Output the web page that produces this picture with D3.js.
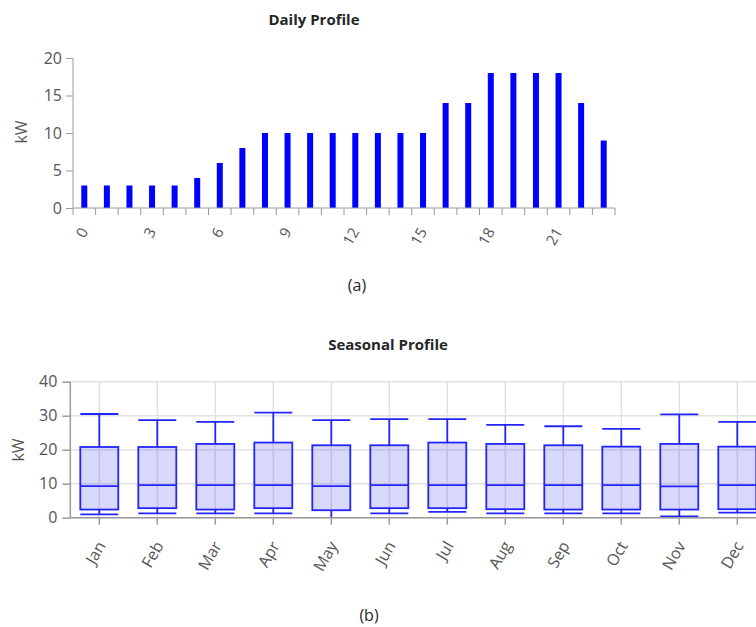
<!DOCTYPE html>
<html><head><meta charset="utf-8">
<script src="https://cdn.jsdelivr.net/npm/d3@7/dist/d3.min.js"></script>
<style>
html,body{margin:0;padding:0;background:#fff;overflow:hidden;}
text{font-family:"Open Sans","Segoe UI",sans-serif;}
</style></head>
<body><svg id="c" width="756" height="627"></svg>
<script>
// ---- Data ----
const hours = [0,1,2,3,4,5,6,7,8,9,10,11,12,13,14,15,16,17,18,19,20,21,22,23];
const hourTickLabels = [0,3,6,9,12,15,18,21];
const dailyKW = [3,3,3,3,3,4,6,8,10,10,10,10,10,10,10,10,14,14,18,18,18,18,14,9];
const dailyYTicks = [0,5,10,15,20];

const months = ["Jan","Feb","Mar","Apr","May","Jun","Jul","Aug","Sep","Oct","Nov","Dec"];
const whiskerLow  = [1.0,1.3,1.3,1.3,0.0,1.3,1.7,1.3,1.3,1.3,0.4,1.5];
const q1          = [2.4,2.8,2.4,2.8,2.2,2.8,2.8,2.5,2.4,2.4,2.4,2.5];
const median      = [9.3,9.6,9.6,9.6,9.3,9.6,9.6,9.6,9.6,9.6,9.2,9.6];
const q3          = [20.8,20.8,21.7,22.1,21.3,21.3,22.1,21.7,21.3,20.9,21.7,20.9];
const whiskerHigh = [30.5,28.7,28.2,30.9,28.7,29.0,29.0,27.3,26.9,26.1,30.4,28.2];
const seasonalYTicks = [0,10,20,30,40];

const svg = d3.select("#c");
const axisCol = "#9a9a9a", tickTxt = "#555", titleCol = "#262626";

// ---- Chart (a): Daily Profile ----
{
  const x0 = 73, x1 = 615, yb = 208, yt = 58;
  const x = d3.scaleBand().domain(hours).range([x0, x1]).paddingInner(0).paddingOuter(0);
  const y = d3.scaleLinear().domain([0, 20]).range([yb, yt]);
  const g = svg.append("g");

  g.selectAll("rect.bar").data(dailyKW).enter().append("rect")
    .attr("x", (d,i) => x(hours[i]) + x.bandwidth()/2 - 3)
    .attr("width", 6)
    .attr("y", d => y(d))
    .attr("height", d => yb - y(d))
    .attr("fill", "#0000ff");

  const ya = g.append("g").attr("transform", `translate(${x0},0)`)
    .call(d3.axisLeft(y).tickValues(dailyYTicks).tickSize(7).tickPadding(4));
  ya.select(".domain").attr("stroke", axisCol).attr("d", `M0,${yt}V${yb}`);
  ya.selectAll(".tick line").attr("stroke", axisCol);
  ya.selectAll(".tick text").attr("fill", tickTxt).style("font-size", "16px");

  const bounds = hours.map(h => x(h)).concat([x1]);
  g.append("line").attr("x1", x0).attr("x2", x1).attr("y1", yb).attr("y2", yb).attr("stroke", axisCol);
  g.selectAll("line.xt").data(bounds).enter().append("line")
    .attr("x1", d => d).attr("x2", d => d).attr("y1", yb).attr("y2", yb + 7).attr("stroke", axisCol);
  g.selectAll("text.xl").data(hourTickLabels).enter().append("text")
    .attr("transform", d => `translate(${x(d) + x.bandwidth()/2},${yb + 21}) rotate(-60)`)
    .attr("text-anchor", "end").attr("dy", "0.35em")
    .attr("fill", tickTxt).style("font-size", "15px").text(d => d);

  g.append("text").attr("transform", `translate(27,132) rotate(-90)`)
    .attr("text-anchor", "middle").attr("fill", tickTxt).style("font-size", "16px").text("kW");
  g.append("text").attr("x", 314).attr("y", 25).attr("text-anchor", "middle")
    .attr("fill", titleCol).style("font-size", "15px").style("font-weight", "bold").text("Daily Profile");
  g.append("text").attr("x", 357).attr("y", 291).attr("text-anchor", "middle")
    .attr("fill", titleCol).style("font-size", "16px").text("(a)");
}

// ---- Chart (b): Seasonal Profile ----
{
  const x0 = 70.3, bw = 58, yb = 517.7, yt = 381.7;
  const x = d3.scaleBand().domain(months).range([x0, x0 + bw * months.length]).padding(0);
  const y = d3.scaleLinear().domain([0, 40]).range([yb, yt]);
  const g = svg.append("g");
  const xr = x0 + bw * months.length;

  g.selectAll("line.hg").data(seasonalYTicks).enter().append("line")
    .attr("x1", x0).attr("x2", xr).attr("y1", d => y(d)).attr("y2", d => y(d))
    .attr("stroke", "#e2e2e2").attr("stroke-width", 1.5);
  g.selectAll("line.vg").data(months).enter().append("line")
    .attr("x1", d => x(d) + bw/2).attr("x2", d => x(d) + bw/2).attr("y1", yt).attr("y2", yb)
    .attr("stroke", "#e2e2e2").attr("stroke-width", 1.5);

  const boxW = 38, stroke = "#2424ff", sw = 1.8;
  const data = months.map((m,i) => ({m, lo: whiskerLow[i], q1: q1[i], md: median[i], q3: q3[i], hi: whiskerHigh[i]}));
  const bg = g.selectAll("g.box").data(data).enter().append("g")
    .attr("transform", d => `translate(${x(d.m) + bw/2},0)`);
  bg.append("line").attr("x1",0).attr("x2",0).attr("y1", d=>y(d.hi)).attr("y2", d=>y(d.q3)).attr("stroke", stroke).attr("stroke-width", sw);
  bg.append("line").attr("x1",0).attr("x2",0).attr("y1", d=>y(d.q1)).attr("y2", d=>y(d.lo)).attr("stroke", stroke).attr("stroke-width", sw);
  bg.append("rect").attr("x", -boxW/2).attr("width", boxW)
    .attr("y", d => y(d.q3)).attr("height", d => y(d.q1) - y(d.q3))
    .attr("fill", "rgba(40,40,230,0.18)").attr("stroke", stroke).attr("stroke-width", sw);
  bg.append("line").attr("x1",-boxW/2).attr("x2",boxW/2).attr("y1", d=>y(d.md)).attr("y2", d=>y(d.md)).attr("stroke", stroke).attr("stroke-width", sw);
  bg.append("line").attr("x1",-boxW/2).attr("x2",boxW/2).attr("y1", d=>y(d.hi)).attr("y2", d=>y(d.hi)).attr("stroke", stroke).attr("stroke-width", sw);
  bg.filter(d => d.lo > 0).append("line").attr("x1",-boxW/2).attr("x2",boxW/2).attr("y1", d=>y(d.lo)).attr("y2", d=>y(d.lo)).attr("stroke", stroke).attr("stroke-width", sw);

  const ya = g.append("g").attr("transform", `translate(${x0},0)`)
    .call(d3.axisLeft(y).tickValues(seasonalYTicks).tickSize(8).tickPadding(5));
  ya.select(".domain").attr("stroke", axisCol).attr("stroke-width", 1.5).attr("d", `M0,${yt}V${yb}`);
  ya.selectAll(".tick line").attr("stroke", axisCol).attr("stroke-width", 1.5);
  ya.selectAll(".tick text").attr("fill", tickTxt).style("font-size", "16px");

  const xa = g.append("g").attr("transform", `translate(0,${yb})`)
    .call(d3.axisBottom(x).tickSize(7).tickFormat(""));
  xa.select(".domain").attr("stroke", axisCol).attr("stroke-width", 1.5).attr("d", `M${x0},0H${xr}`);
  xa.selectAll(".tick line").attr("stroke", axisCol).attr("stroke-width", 1.5);
  g.selectAll("text.ml").data(months).enter().append("text")
    .attr("transform", d => `translate(${x(d) + bw/2 + 2},${yb + 25}) rotate(-60)`)
    .attr("text-anchor", "end").attr("dy", "0.35em")
    .attr("fill", tickTxt).style("font-size", "16px").text(d => d);

  g.append("text").attr("transform", `translate(24,450) rotate(-90)`)
    .attr("text-anchor", "middle").attr("fill", tickTxt).style("font-size", "16px").text("kW");
  g.append("text").attr("x", 388).attr("y", 350).attr("text-anchor", "middle")
    .attr("fill", titleCol).style("font-size", "15px").style("font-weight", "bold").text("Seasonal Profile");
  g.append("text").attr("x", 369).attr("y", 621).attr("text-anchor", "middle")
    .attr("fill", titleCol).style("font-size", "16px").text("(b)");
}
</script></body></html>
